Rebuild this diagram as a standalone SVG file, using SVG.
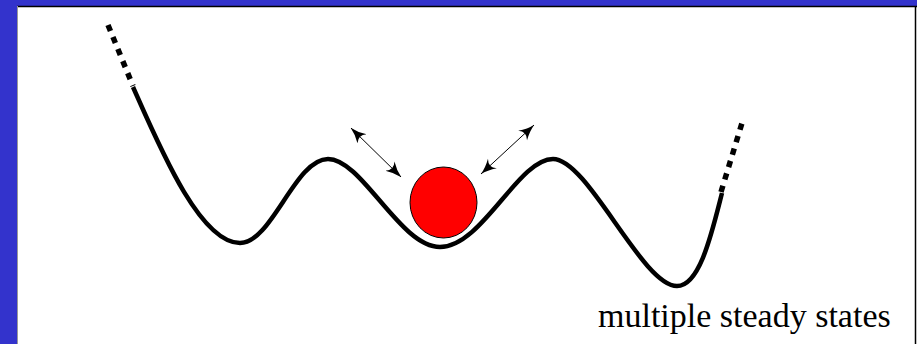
<svg xmlns="http://www.w3.org/2000/svg" width="917" height="344" viewBox="0 0 917 344">
<style>
.curve{fill:none;stroke:#000;stroke-width:4.5;stroke-linejoin:round}
.dash{fill:none;stroke:#000;stroke-width:5.5;stroke-dasharray:6.5,6.5}
.arr{fill:none;stroke:#000;stroke-width:1}
.lbl{font-family:"Liberation Serif","Times New Roman",serif;font-size:34px;fill:#000}
</style>
<defs>
<marker id="ah" viewBox="0 0 16 14" refX="15.5" refY="7" markerWidth="16" markerHeight="14" markerUnits="userSpaceOnUse" orient="auto-start-reverse">
<path d="M0,0.5 Q8,5.5 16,7 Q8,8.5 0,13.5 Q6,7 0,0.5 Z" fill="#000"/>
</marker>
</defs>
<rect x="0" y="0" width="917" height="344" fill="#3333CC"/>
<rect x="17" y="6" width="900" height="338" fill="#fff"/>
<line x1="17" y1="6.5" x2="917" y2="6.5" stroke="#000" stroke-width="1.5"/>
<line x1="915.5" y1="6" x2="915.5" y2="344" stroke="#000" stroke-width="1.5"/>
<line x1="17.5" y1="6" x2="17.5" y2="344" stroke="#999" stroke-width="1"/>
<g id="landscape">
<path class="dash" d="M108,25 L133,86"/>
<path class="curve" d="M133,87 C160,148 200,243 240,243 C272,243 295,159 328,159 C362,159 400,247 440,247 C482,247 518,159 553,159 C588,159 642,286 677,286 C700,286 712,232 722,193"/>
<path class="dash" d="M721,192 L742,123"/>
</g>
<g id="ball">
<ellipse cx="443.5" cy="202.5" rx="33.5" ry="35.5" fill="#ff0000" stroke="#000" stroke-width="1"/>
</g>
<g id="connectors">
<line class="arr" x1="351" y1="128" x2="401" y2="177" marker-start="url(#ah)" marker-end="url(#ah)"/>
<line class="arr" x1="534" y1="125" x2="481" y2="174" marker-start="url(#ah)" marker-end="url(#ah)"/>
</g>
<g id="label">
<text class="lbl" x="598" y="327">multiple steady states</text>
</g>
</svg>
